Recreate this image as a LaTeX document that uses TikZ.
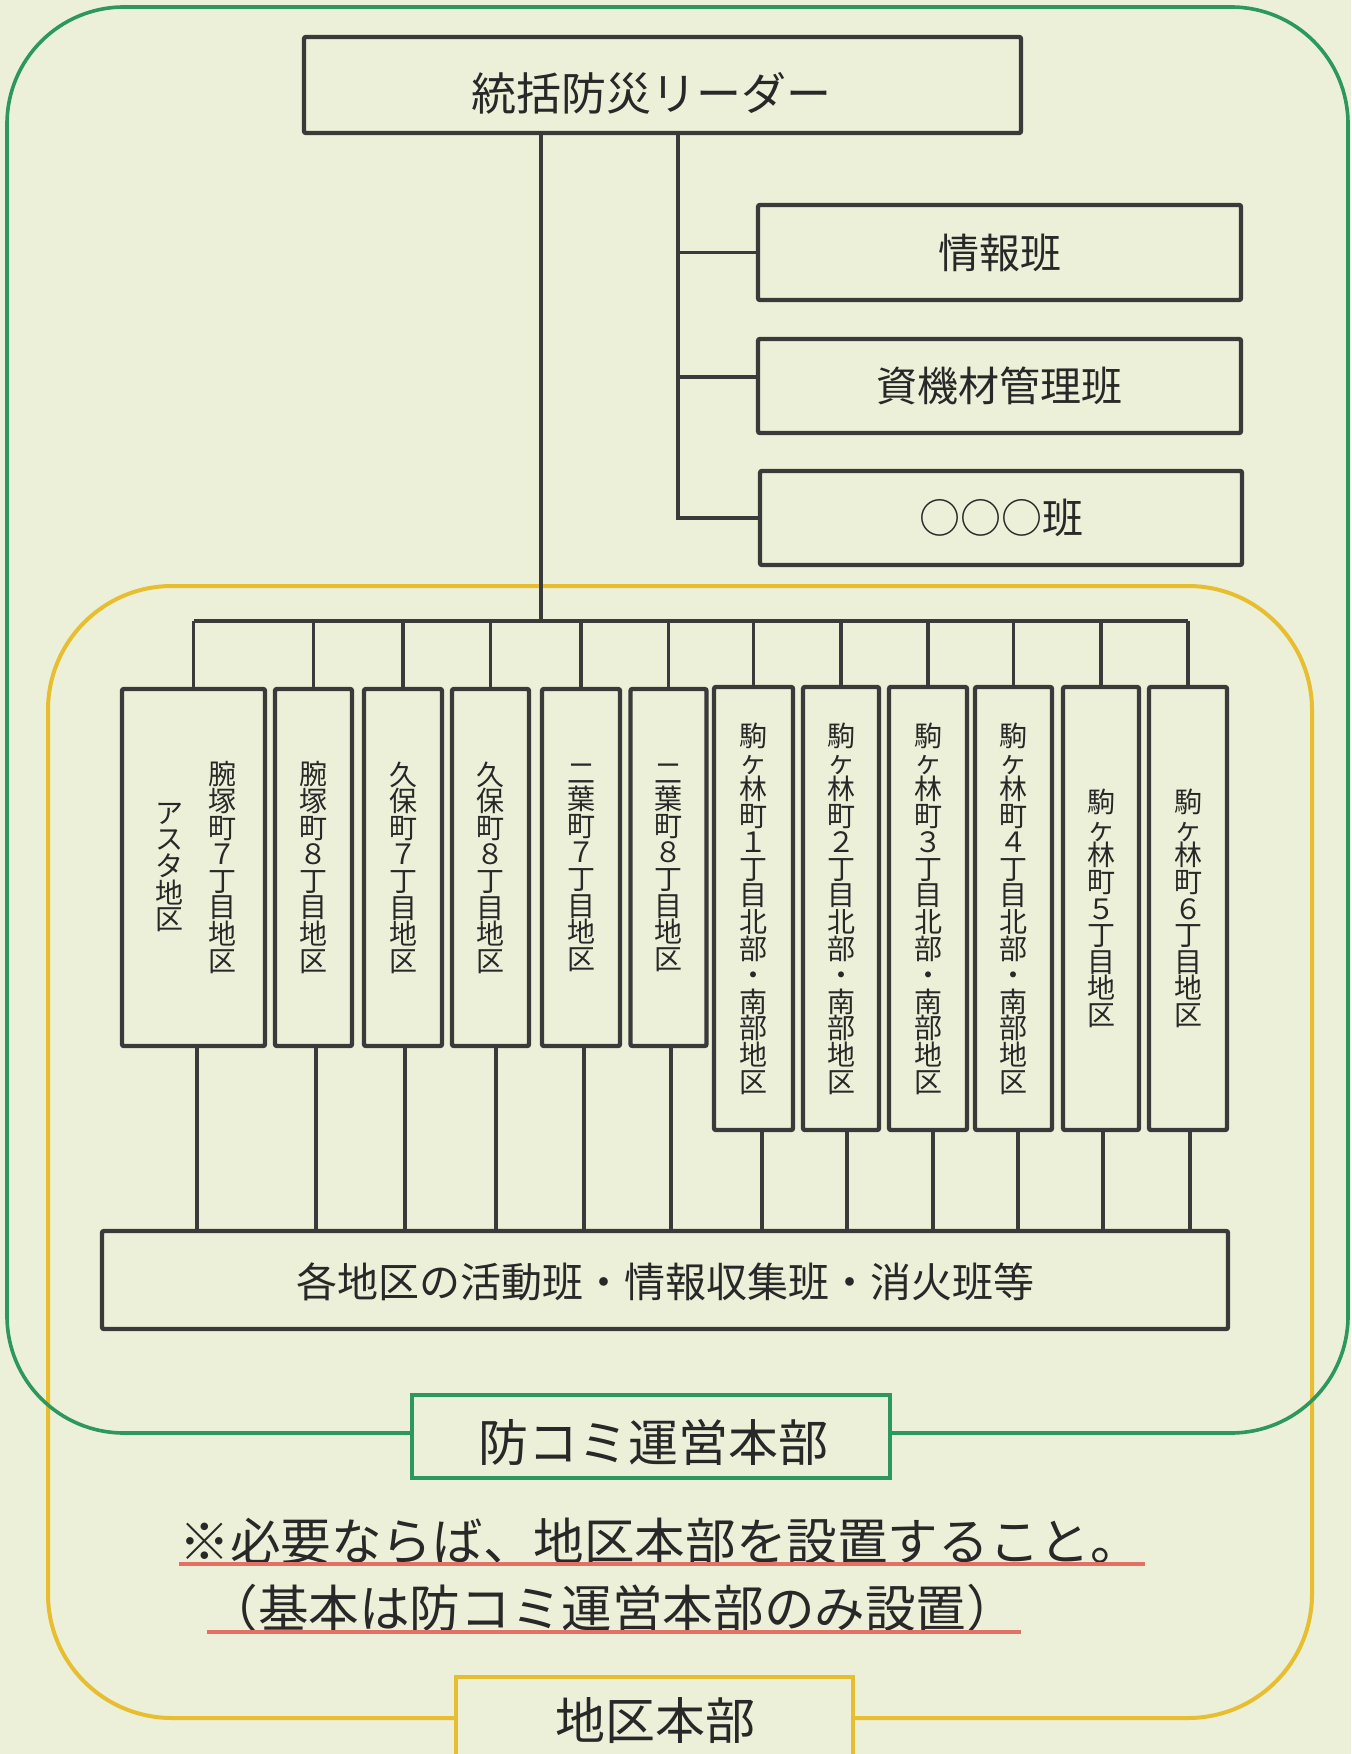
\documentclass[tikz,border=0pt]{standalone}
\usepackage{fontspec}
\setmainfont{Noto Sans CJK JP}
\definecolor{bgc}{RGB}{237,240,216}
\definecolor{grn}{RGB}{44,152,92}
\definecolor{ylw}{RGB}{230,190,48}
\definecolor{boxc}{RGB}{58,58,58}
\definecolor{txtc}{RGB}{40,40,40}
\definecolor{ulc}{RGB}{226,112,100}
\newcommand\vfnt{\fontsize{14pt}{13.3pt}\selectfont\lineskiplimit=-\maxdimen\relax}
\begin{document}
\begin{tikzpicture}[x=0.5pt,y=-0.5pt,
  box/.style={draw=boxc,line width=2.2pt,fill=bgc,rounded corners=1pt,inner sep=0pt},
  conn/.style={draw=boxc,line width=1.6pt},
  vtxt/.style={text=txtc,align=center,inner sep=0pt,font=\vfnt},
  htxt/.style={text=txtc,inner sep=0pt},
  lbl/.style={line width=2.3pt,fill=bgc,inner sep=0pt},
]
\useasboundingbox (0,0) rectangle (1351,1754);
\clip (0,0) rectangle (1351,1754);
\fill[bgc] (0,0) rectangle (1351,1754);

% outer frames
\draw[ylw,line width=2pt,rounded corners=62pt] (48,586) rectangle (1312,1718);
\draw[grn,line width=1.8pt,rounded corners=58.5pt] (7,7) rectangle (1348,1433);

% helper coordinates
\coordinate (trunkx) at (541,0);
\coordinate (branchx) at (678,0);
\coordinate (busy) at (0,621);

% top boxes
\node[box,minimum width=358.5pt,minimum height=48pt] (leader) at (662.5,85) {};
\node[htxt,font=\fontsize{22.5pt}{27pt}\selectfont] (leadertext) at (651.5,93) {統括防災リーダー};

\node[box,minimum width=241.5pt,minimum height=47.5pt,font=\fontsize{20.5pt}{24pt}\selectfont,text=txtc] (info) at (999.5,252.5) {情報班};
\node[box,minimum width=241.5pt,minimum height=47pt,font=\fontsize{20.5pt}{24pt}\selectfont,text=txtc] (shizai) at (999.5,386) {資機材管理班};
\node[box,minimum width=241pt,minimum height=47pt,font=\fontsize{20.5pt}{24pt}\selectfont,text=txtc] (maru) at (1001,518) {○○○班};

% district boxes
\node[box,minimum width=71.5pt,minimum height=178.5pt] (d1) at (193.5,867.5) {};
\node[vtxt] (d1a) at (222,867.5) {腕\\塚\\町\\７\\丁\\目\\地\\区};
\node[vtxt] (d1b) at (169,867.5) {ア\\ス\\タ\\地\\区};
\node[box,vtxt,minimum width=38.5pt,minimum height=178.5pt] (d2) at (313.5,867.5) {腕\\塚\\町\\８\\丁\\目\\地\\区};
\node[box,vtxt,minimum width=39pt,minimum height=178.5pt] (d3) at (403,867.5) {久\\保\\町\\７\\丁\\目\\地\\区};
\node[box,vtxt,minimum width=38.5pt,minimum height=178.5pt] (d4) at (490.5,867.5) {久\\保\\町\\８\\丁\\目\\地\\区};
\node[box,vtxt,minimum width=39pt,minimum height=178.5pt] (d5) at (581,867.5) {二\\葉\\町\\７\\丁\\目\\地\\区};
\node[box,vtxt,minimum width=38pt,minimum height=178.5pt] (d6) at (668.5,867.5) {二\\葉\\町\\８\\丁\\目\\地\\区};
\node[box,vtxt,minimum width=39.5pt,minimum height=221.5pt] (d7) at (753.5,908.5) {駒\\ヶ\\林\\町\\１\\丁\\目\\北\\部\\・\\南\\部\\地\\区};
\node[box,vtxt,minimum width=38pt,minimum height=221.5pt] (d8) at (841,908.5) {駒\\ヶ\\林\\町\\２\\丁\\目\\北\\部\\・\\南\\部\\地\\区};
\node[box,vtxt,minimum width=39pt,minimum height=221.5pt] (d9) at (928,908.5) {駒\\ヶ\\林\\町\\３\\丁\\目\\北\\部\\・\\南\\部\\地\\区};
\node[box,vtxt,minimum width=38.5pt,minimum height=221.5pt] (d10) at (1013.5,908.5) {駒\\ヶ\\林\\町\\４\\丁\\目\\北\\部\\・\\南\\部\\地\\区};
\node[box,vtxt,minimum width=38pt,minimum height=221.5pt] (d11) at (1101,908.5) {駒\\ヶ\\林\\町\\５\\丁\\目\\地\\区};
\node[box,vtxt,minimum width=39pt,minimum height=221.5pt] (d12) at (1188,908.5) {駒\\ヶ\\林\\町\\６\\丁\\目\\地\\区};

% bottom box
\node[box,minimum width=563pt,minimum height=49pt] (allbox) at (665,1280) {};
\node[htxt,font=\fontsize{20.5pt}{24pt}\selectfont] (alltext) at (665,1282) {各地区の活動班・情報収集班・消火班等};

% connectors from leader
\draw[conn] (leader.south -| trunkx) -- (trunkx |- busy);
\coordinate (szc) at ([yshift=4.5pt]shizai.west);
\draw[conn] (leader.south -| branchx) -- (maru.west -| branchx) -- (maru.west);
\draw[conn] (info.west -| branchx) -- (info.west);
\draw[conn] (szc -| branchx) -- (szc);
\draw[conn] (d1.north |- busy) -- (d12.north |- busy);
\foreach \n in {1,...,12} {
  \draw[conn] (d\n.north |- busy) -- (d\n.north);
}
\foreach \n/\x in {1/197,2/316,3/405,4/496,5/584,6/671,7/762,8/847,9/933,10/1018,11/1103,12/1190} {
  \coordinate (bx\n) at (\x,0);
  \draw[conn] (d\n.south -| bx\n) -- (bx\n |- allbox.north);
}

% label boxes
\node[lbl,draw=grn,minimum width=239pt,minimum height=41.5pt] (bokomi) at (651,1436.5) {};
\node[htxt,font=\fontsize{25pt}{30pt}\selectfont] (bokomitext) at (653,1442) {防コミ運営本部};
\node[lbl,draw=ylw,minimum width=198.5pt,minimum height=60pt] (chiku) at (654.5,1737) {};
\node[htxt,font=\fontsize{25pt}{30pt}\selectfont] (chikutext) at (655,1721) {地区本部};

% notes
\node[htxt,anchor=west,font=\fontsize{25.3pt}{30pt}\selectfont] (note1) at (179,1541) {※必要ならば、地区本部を設置すること。};
\node[htxt,anchor=west,font=\fontsize{25.3pt}{30pt}\selectfont] (note2) at (207,1608) {（基本は防コミ運営本部のみ設置）};
\draw[ulc,line width=1.7pt] (179,1564) -- (1145,1564);
\draw[ulc,line width=1.7pt] (207,1632) -- (1021,1632);
\end{tikzpicture}
\end{document}
